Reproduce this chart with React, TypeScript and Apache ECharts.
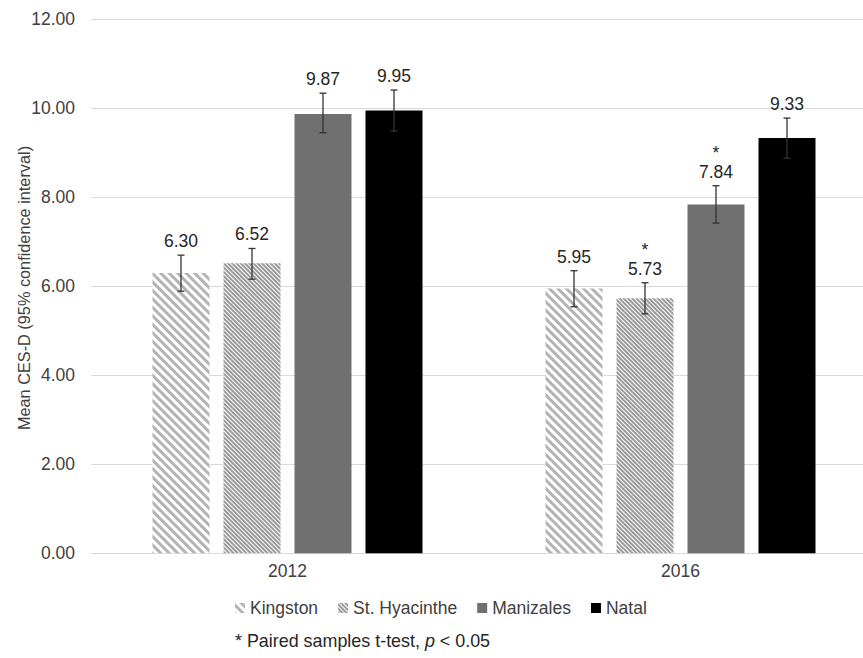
import React, { useEffect, useRef } from "react";
import * as echarts from "echarts";

const years = ["2012", "2016"];
const seriesNames = ["Kingston", "St. Hyacinthe", "Manizales", "Natal"];
const kingston = [6.3, 5.95];
const stHyacinthe = [6.52, 5.73];
const manizales = [9.87, 7.84];
const natal = [9.95, 9.33];
// 95% CI lower / upper bounds
const ciLow = [
  [5.89, 5.54],
  [6.16, 5.38],
  [9.45, 7.42],
  [9.49, 8.88],
];
const ciHigh = [
  [6.7, 6.35],
  [6.85, 6.08],
  [10.34, 8.26],
  [10.41, 9.78],
];
// significance markers (paired samples t-test, p < 0.05)
const significant = [
  [false, false],
  [false, true],
  [false, true],
  [false, false],
];
const yTicks = [0, 2, 4, 6, 8, 10, 12];

const FONT = "'Liberation Sans', Arial, Helvetica, sans-serif";
const BAR_W = 57;
const BAR_GAP = 14;

export default function App() {
  const ref = useRef<HTMLDivElement>(null);
  useEffect(() => {
    if (!ref.current) return;
    const chart = echarts.init(ref.current, undefined, { renderer: "svg" });
    const values = [kingston, stHyacinthe, manizales, natal];
    const errData: any[] = [];
    values.forEach((arr, s) => {
      arr.forEach((v, c) => {
        errData.push([c, ciLow[s][c], ciHigh[s][c], v, s, significant[s][c] ? 1 : 0]);
      });
    });
    const styles: any[] = [
      {
        color: "#ffffff",
        decal: {
          symbol: "rect",
          symbolSize: 1,
          dashArrayX: [1, 0],
          dashArrayY: [3, 3],
          rotation: Math.PI / 4,
          color: "#b3b3b3",
        },
      },
      {
        color: "#ffffff",
        decal: {
          symbol: "rect",
          symbolSize: 1,
          dashArrayX: [1, 0],
          dashArrayY: [2, 1],
          rotation: Math.PI / 4,
          color: "#999999",
        },
      },
      { color: "#707070" },
      { color: "#000000" },
    ];
    const barSeries = values.map((arr, s) => ({
      type: "bar",
      name: seriesNames[s],
      data: arr,
      barWidth: BAR_W,
      barGap: ((BAR_GAP / BAR_W) * 100).toFixed(2) + "%",
      itemStyle: styles[s],
    }));
    chart.setOption({
      animation: false,
      textStyle: { fontFamily: FONT },
      grid: { left: 91, right: 0, top: 19.3, bottom: 104.7, containLabel: false },
      xAxis: {
        type: "category",
        data: years,
        axisLine: { lineStyle: { color: "#d9d9d9", width: 1 } },
        axisTick: { show: false },
        axisLabel: { margin: 9, fontSize: 17.5, color: "#404040", fontFamily: FONT },
      },
      yAxis: {
        type: "value",
        min: yTicks[0],
        max: yTicks[yTicks.length - 1],
        interval: 2,
        axisLine: { show: false },
        axisTick: { show: false },
        splitLine: { lineStyle: { color: "#d9d9d9", width: 1 } },
        axisLabel: {
          margin: 16,
          fontSize: 17.5,
          color: "#404040",
          fontFamily: FONT,
          formatter: (v: number) => v.toFixed(2),
        },
      },
      legend: {
        data: seriesNames,
        left: 230,
        top: 594,
        icon: "rect",
        itemWidth: 10,
        itemHeight: 10,
        itemGap: 20,
        textStyle: { fontSize: 17.5, color: "#404040", fontFamily: FONT },
      },
      series: [
        ...barSeries,
        {
          type: "custom",
          z: 10,
          silent: true,
          data: errData,
          encode: { x: 0, y: [1, 2] },
          renderItem: (params: any, api: any) => {
            const c = api.value(0);
            const lo = api.value(1);
            const hi = api.value(2);
            const v = api.value(3);
            const s = api.value(4);
            const star = api.value(5);
            const center = api.coord([c, v]);
            const x = center[0] + (s - 1.5) * (BAR_W + BAR_GAP);
            const yLo = api.coord([c, lo])[1];
            const yHi = api.coord([c, hi])[1];
            const cap = 3.5;
            const ls = { stroke: "#333333", lineWidth: 1.3 };
            const children: any[] = [
              { type: "line", shape: { x1: x, y1: yLo, x2: x, y2: yHi }, style: ls },
              { type: "line", shape: { x1: x - cap, y1: yLo, x2: x + cap, y2: yLo }, style: ls },
              { type: "line", shape: { x1: x - cap, y1: yHi, x2: x + cap, y2: yHi }, style: ls },
              {
                type: "text",
                style: {
                  text: Number(v).toFixed(2),
                  x: x,
                  y: yHi - 14,
                  align: "center",
                  verticalAlign: "middle",
                  fontSize: 17.5,
                  fontFamily: FONT,
                  fill: "#262626",
                },
              },
            ];
            if (star) {
              children.push({
                type: "text",
                style: {
                  text: "*",
                  x: x,
                  y: yHi - 33,
                  align: "center",
                  verticalAlign: "middle",
                  fontSize: 17.5,
                  fontFamily: FONT,
                  fill: "#262626",
                },
              });
            }
            return { type: "group", children };
          },
        },
      ],
      graphic: [
        {
          type: "text",
          x: 24,
          y: 288,
          rotation: Math.PI / 2,
          style: {
            text: "Mean CES-D (95% confidence interval)",
            align: "center",
            verticalAlign: "middle",
            fontSize: 16.3,
            fontFamily: FONT,
            fill: "#404040",
          },
        },
        {
          type: "text",
          left: 235,
          top: 632,
          style: {
            text: "* Paired samples t-test, {i|p} < 0.05",
            fontSize: 17.9,
            fontFamily: FONT,
            fill: "#262626",
            rich: {
              i: { fontStyle: "italic", fontSize: 17.9, fontFamily: FONT, fill: "#262626" },
            },
          },
        },
      ],
    });
    return () => chart.dispose();
  }, []);
  return (
    <div
      style={{
        position: "fixed",
        left: 0,
        top: 0,
        width: 863,
        height: 658,
        overflow: "hidden",
        background: "#fff",
      }}
    >
      <div ref={ref} style={{ width: 877, height: 658 }} />
    </div>
  );
}
